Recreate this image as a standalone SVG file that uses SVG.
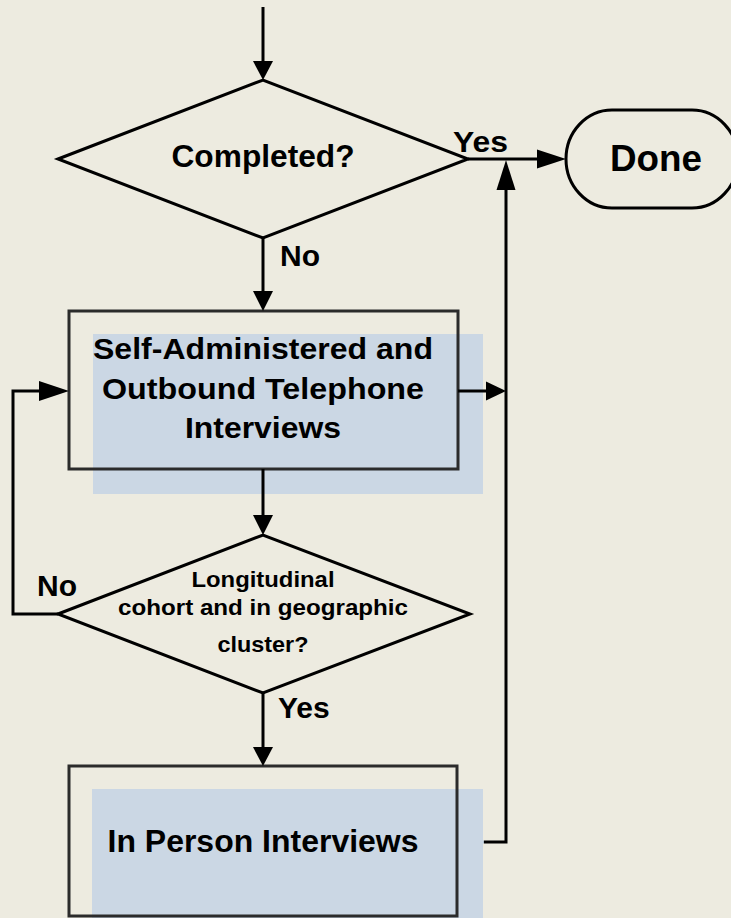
<svg xmlns="http://www.w3.org/2000/svg" width="731" height="918" viewBox="0 0 731 918">
  <style>
    .bg { fill: #EDEBE0; }
    .shape { fill: none; stroke: #000; stroke-width: 3; stroke-linejoin: miter; }
    .box { fill: none; stroke: #2B2B2B; stroke-width: 3; }
    .tint { fill: #CBD7E4; }
    .wire { fill: none; stroke: #000; stroke-width: 3; }
    .wire-hidden { fill: none; stroke: #AEBCCA; stroke-width: 3; }
    .head { fill: #000; stroke: none; }
    text { font-family: "Liberation Sans", Arial, Helvetica, sans-serif; font-weight: bold; fill: #000; }
    .mid { text-anchor: middle; }
  </style>

  <rect class="bg" x="0" y="0" width="731" height="918"/>

  <!-- segment running under the tinted panel of the lower box -->
  <line class="wire-hidden" x1="457" y1="842" x2="484" y2="842"/>

  <!-- decision: completed? -->
  <g id="node-completed">
    <polygon class="shape" points="58,159 263,80 468,159 263,238"/>
    <text class="mid" x="263" y="167" font-size="31" textLength="183" lengthAdjust="spacingAndGlyphs">Completed?</text>
  </g>

  <!-- terminal: done -->
  <g id="node-done">
    <rect class="shape" x="566" y="110" width="172" height="98" rx="46" ry="49"/>
    <text class="mid" x="656" y="171" font-size="36" textLength="92" lengthAdjust="spacingAndGlyphs">Done</text>
  </g>

  <!-- process: self-administered / outbound telephone -->
  <g id="node-self-administered">
    <rect class="tint" x="93" y="334" width="390" height="160"/>
    <rect class="box" x="69" y="311" width="389" height="158"/>
    <text class="mid" x="263" y="359" font-size="30" textLength="340" lengthAdjust="spacingAndGlyphs">Self-Administered and</text>
    <text class="mid" x="263" y="399" font-size="30" textLength="322" lengthAdjust="spacingAndGlyphs">Outbound Telephone</text>
    <text class="mid" x="263" y="438" font-size="30" textLength="156" lengthAdjust="spacingAndGlyphs">Interviews</text>
  </g>

  <!-- decision: longitudinal cohort in cluster? -->
  <g id="node-longitudinal">
    <polygon class="shape" points="58,614 263,535 470,614 263,693"/>
    <text class="mid" x="263" y="587" font-size="22" textLength="143" lengthAdjust="spacingAndGlyphs">Longitudinal</text>
    <text class="mid" x="263" y="615" font-size="22" textLength="290" lengthAdjust="spacingAndGlyphs">cohort and in geographic</text>
    <text class="mid" x="263" y="652" font-size="22" textLength="91" lengthAdjust="spacingAndGlyphs">cluster?</text>
  </g>

  <!-- process: in person interviews -->
  <g id="node-in-person">
    <rect class="tint" x="92" y="789" width="391" height="135"/>
    <rect class="box" x="69" y="766" width="388" height="150"/>
    <text class="mid" x="263" y="852" font-size="32" textLength="311" lengthAdjust="spacingAndGlyphs">In Person Interviews</text>
  </g>

  <!-- connectors -->
  <g id="connectors">
    <!-- entry -->
    <line class="wire" x1="263" y1="7" x2="263" y2="62"/>
    <polygon class="head" points="253,61 273,61 263,80"/>

    <!-- completed: yes -> done -->
    <line class="wire" x1="468" y1="159" x2="540" y2="159"/>
    <polygon class="head" points="537,149.5 537,168.5 566,159"/>
    <text x="453" y="152" font-size="30" textLength="55" lengthAdjust="spacingAndGlyphs">Yes</text>

    <!-- completed: no -> self-administered -->
    <line class="wire" x1="263" y1="238" x2="263" y2="293"/>
    <polygon class="head" points="253,291 273,291 263,311"/>
    <text x="280" y="266" font-size="30">No</text>

    <!-- self-administered -> return line -->
    <line class="wire" x1="458" y1="391" x2="487" y2="391"/>
    <polygon class="head" points="486,381.5 486,400.5 506,391"/>

    <!-- return line up to the yes branch -->
    <polyline class="wire" points="484,842 506,842 506,188"/>
    <polygon class="head" points="496.5,190 515.5,190 506,160"/>

    <!-- self-administered -> longitudinal -->
    <line class="wire" x1="263" y1="469" x2="263" y2="517"/>
    <polygon class="head" points="253,515 273,515 263,535"/>

    <!-- longitudinal: no -> loop back -->
    <polyline class="wire" points="58,614 13,614 13,391 41,391"/>
    <polygon class="head" points="39,381 39,401 69,391"/>
    <text x="37" y="596" font-size="30">No</text>

    <!-- longitudinal: yes -> in person -->
    <line class="wire" x1="263" y1="693" x2="263" y2="748"/>
    <polygon class="head" points="253,747 273,747 263,766"/>
    <text x="278" y="718" font-size="30">Yes</text>
  </g>
</svg>
